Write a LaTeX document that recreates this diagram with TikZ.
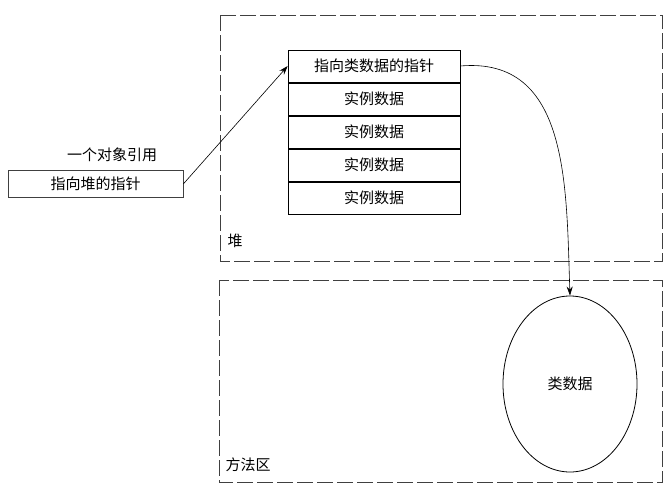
\documentclass[tikz,border=0pt]{standalone}
\usepackage{fontspec}
\newfontfamily\cjk{Noto Sans CJK SC}
\usetikzlibrary{arrows.meta,positioning,shapes.geometric}
\begin{document}
\begin{tikzpicture}[
  x=1pt,
  y=-1pt,
  font=\cjk\fontsize{15}{18}\selectfont,
  area/.style={draw=black!75,semithick,dash pattern=on 16pt off 4pt},
  cell/.style={draw=black,semithick,minimum width=172pt,minimum height=32.4pt,inner sep=0pt},
  pointer/.style={draw=black,semithick,-{Stealth[length=9pt,width=6pt]}}
]
  \useasboundingbox (0,0) rectangle (666,490);
  % heap and method area
  \draw[area] (220,15) rectangle (662,261);
  \draw[area] (219,280) rectangle (662,482);
  \node[anchor=west] (heaplbl) at (224,241) {堆};
  \node[anchor=west] (methodlbl) at (222,465) {方法区};

  % object on the heap
  \node[cell] (cls) at (374,66) {指向类数据的指针};
  \node[cell,below=0pt of cls] (d1) {实例数据};
  \node[cell,below=0pt of d1] (d2) {实例数据};
  \node[cell,below=0pt of d2] (d3) {实例数据};
  \node[cell,below=0pt of d3] (d4) {实例数据};

  % reference
  \node[draw=black!75,semithick,minimum width=175pt,minimum height=27pt,inner sep=0pt] (ref) at (95.5,184) {指向堆的指针};
  \node (reflbl) at (112,155) {一个对象引用};

  % class data
  \node[draw=black,thick,ellipse,minimum width=134pt,minimum height=176pt,inner sep=0pt] (data) at (570,384) {类数据};

  \draw[pointer] (ref.east) -- (cls.west);
  \draw[pointer] (cls.east) to[out=5,in=92,looseness=1.1] (data.north);
\end{tikzpicture}
\end{document}
